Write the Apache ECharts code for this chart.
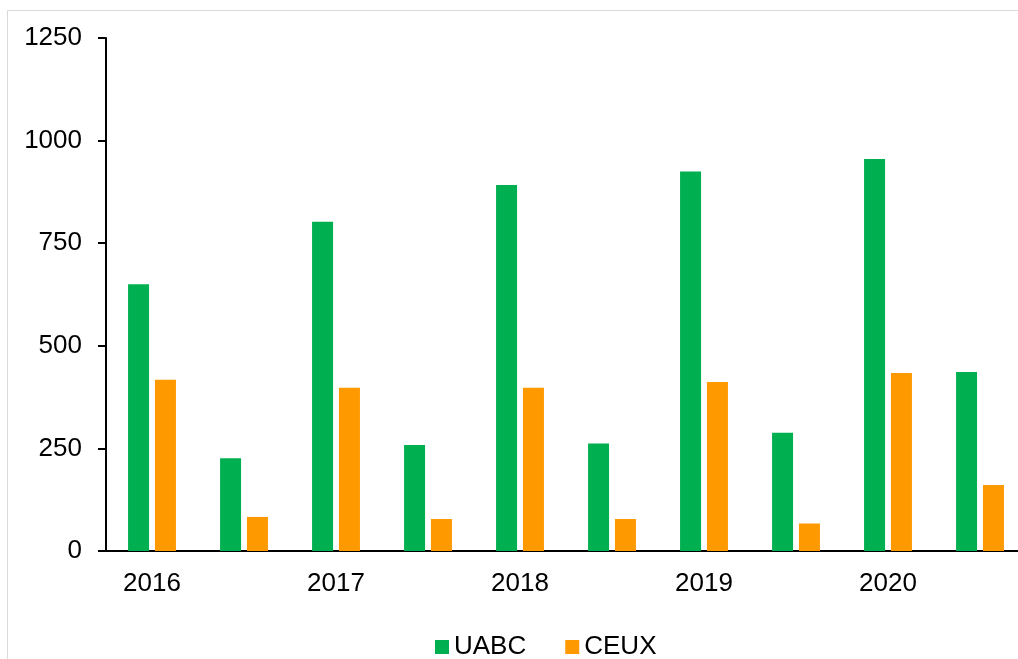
<!DOCTYPE html>
<html>
<head>
<meta charset="utf-8">
<script src="https://cdn.jsdelivr.net/npm/echarts@6/dist/echarts.min.js"></script>
<style>
  html, body { margin: 0; padding: 0; background: #fff; }
  #main { width: 1018px; height: 659px; }
</style>
</head>
<body>
<div id="main"></div>
<script>
// 数据
var categories = ['2016', '2016b', '2017', '2017b', '2018', '2018b', '2019', '2019b', '2020', '2020b'];
var xLabels = ['2016', '', '2017', '', '2018', '', '2019', '', '2020', ''];
var uabcData = [650, 226, 802, 258, 892, 262, 925, 288, 955, 436];
var ceuxData = [417, 83, 398, 78, 398, 78, 412, 67, 434, 161];
var yTicks = [0, 250, 500, 750, 1000, 1250];

var chart = echarts.init(document.getElementById('main'));

var option = {
    animation: false,
    textStyle: {
        fontFamily: 'Liberation Sans, Arial, sans-serif',
        color: '#000'
    },
    // 外框
    graphic: [{
        type: 'rect',
        shape: { x: 7.5, y: 10.5, width: 1100, height: 700 },
        style: { fill: 'none', stroke: '#d9d9d9', lineWidth: 1 },
        silent: true
    }],
    legend: {
        data: ['UABC', 'CEUX'],
        left: 435,
        top: 634,
        padding: 0,
        icon: 'rect',
        itemWidth: 14,
        itemHeight: 14,
        itemGap: 39,
        textStyle: {
            fontSize: 26,
            color: '#000',
            fontFamily: 'Liberation Sans, Arial, sans-serif'
        }
    },
    grid: {
        left: 106,
        top: 38,
        width: 920,
        height: 513,
        outerBoundsMode: 'none'
    },
    xAxis: {
        type: 'category',
        data: categories,
        axisTick: { show: false },
        axisLine: {
            lineStyle: { color: '#000', width: 2 }
        },
        axisLabel: {
            interval: 0,
            margin: 20,
            fontSize: 26,
            color: '#000',
            formatter: function (value, index) {
                return xLabels[index];
            }
        },
        splitLine: { show: false }
    },
    yAxis: {
        type: 'value',
        min: yTicks[0],
        max: yTicks[yTicks.length - 1],
        interval: 250,
        axisLine: {
            show: true,
            lineStyle: { color: '#000', width: 2 }
        },
        axisTick: {
            show: true,
            length: 8,
            lineStyle: { color: '#000', width: 2 }
        },
        axisLabel: {
            margin: 24,
            fontSize: 26,
            color: '#000',
            formatter: function (value) {
                return String(value);
            }
        },
        splitLine: { show: false }
    },
    series: [
        {
            name: 'UABC',
            type: 'bar',
            barWidth: 21,
            barGap: '28%',
            itemStyle: { color: '#00B050' },
            data: uabcData
        },
        {
            name: 'CEUX',
            type: 'bar',
            barWidth: 21,
            barGap: '28%',
            itemStyle: { color: '#FF9900' },
            data: ceuxData
        }
    ]
};

chart.setOption(option);
</script>
</body>
</html>
